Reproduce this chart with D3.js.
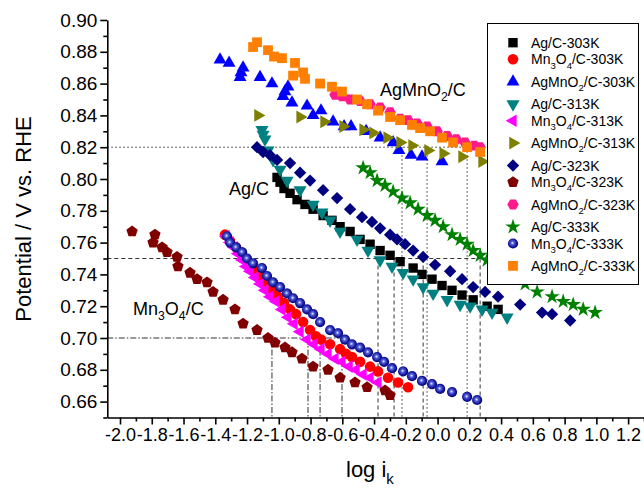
<!DOCTYPE html>
<html lang="en">
<head>
<meta charset="utf-8">
<title>Tafel plots</title>
<style>
	body {
		margin: 0;
		background: #fff;
	}
	svg {
		display: block;
		font-family: "Liberation Sans", Arial, sans-serif;
	}
	.axis path, .axis line {
		stroke: #000;
		stroke-width: 1.6px;
	}
	.axis text {
		fill: #000;
		font-family: "Liberation Sans", Arial, sans-serif;
	}
</style>
</head>
<body>
<svg></svg>
<script src="https://d3js.org/d3.v7.min.js"></script>
<script>
// ---- data (log ik, potential) ----
var agC303 = [[-1.011,0.801],[-0.992,0.798],[-0.967,0.794],[-0.929,0.791],[-0.885,0.787],[-0.835,0.784],[-0.784,0.781],[-0.721,0.777],[-0.665,0.774],[-0.614,0.770],[-0.551,0.767],[-0.488,0.762],[-0.425,0.759],[-0.362,0.755],[-0.299,0.752],[-0.236,0.748],[-0.154,0.744],[-0.098,0.740],[-0.035,0.737],[0.028,0.733],[0.091,0.730],[0.154,0.727],[0.224,0.724],[0.312,0.720],[0.381,0.718]];
var mnC303 = [[-1.339,0.765],[-1.307,0.761],[-1.269,0.757],[-1.231,0.752],[-1.194,0.748],[-1.156,0.743],[-1.118,0.739],[-1.080,0.735],[-1.043,0.730],[-1.005,0.726],[-0.967,0.722],[-0.929,0.718],[-0.891,0.715],[-0.847,0.710],[-0.803,0.705],[-0.765,0.701],[-0.734,0.699],[-0.677,0.696],[-0.614,0.693],[-0.576,0.690],[-0.539,0.688],[-0.488,0.685],[-0.425,0.682],[-0.375,0.679],[-0.312,0.675],[-0.249,0.672],[-0.186,0.669]];
var agmnC303 = [[-1.370,0.875],[-1.313,0.873],[-1.225,0.870],[-1.238,0.867],[-1.244,0.864],[-1.118,0.864],[-1.043,0.860],[-0.942,0.858],[-0.961,0.855],[-0.973,0.852],[-0.917,0.848],[-0.822,0.846],[-0.784,0.840],[-0.734,0.843],[-0.658,0.836],[-0.589,0.833],[-0.545,0.833],[-0.450,0.830],[-0.362,0.826],[-0.280,0.823],[-0.243,0.818],[-0.167,0.815],[-0.098,0.814],[0.028,0.811]];
var agC313 = [[-1.106,0.831],[-1.099,0.828],[-1.087,0.825],[-1.068,0.818],[-1.036,0.812],[-0.992,0.806],[-0.948,0.799],[-0.866,0.793],[-0.784,0.784],[-0.728,0.779],[-0.677,0.774],[-0.614,0.767],[-0.507,0.762],[-0.438,0.755],[-0.362,0.749],[-0.287,0.745],[-0.217,0.741],[-0.154,0.737],[-0.091,0.732],[-0.028,0.728],[0.060,0.724],[0.142,0.721],[0.205,0.720],[0.280,0.718],[0.343,0.716],[0.438,0.713]];
var mnC313 = [[-1.332,0.764],[-1.307,0.760],[-1.282,0.757],[-1.257,0.753],[-1.231,0.749],[-1.206,0.745],[-1.181,0.742],[-1.150,0.738],[-1.118,0.734],[-1.087,0.730],[-1.055,0.726],[-1.017,0.723],[-0.980,0.718],[-0.942,0.713],[-0.904,0.709],[-0.866,0.704],[-0.822,0.699],[-0.778,0.696],[-0.734,0.693],[-0.690,0.690],[-0.646,0.687],[-0.602,0.685],[-0.557,0.682],[-0.513,0.680],[-0.469,0.677],[-0.425,0.675],[-0.375,0.672]];
var agmnC313 = [[-1.131,0.840],[-0.866,0.839],[-0.715,0.836],[-0.595,0.833],[-0.469,0.831],[-0.406,0.829],[-0.318,0.826],[-0.236,0.823],[-0.161,0.821],[-0.060,0.818],[0.035,0.816],[0.154,0.814],[0.280,0.811]];
var agC323 = [[-1.137,0.820],[-1.099,0.817],[-1.055,0.815],[-1.011,0.812],[-0.929,0.810],[-0.866,0.804],[-0.803,0.799],[-0.721,0.793],[-0.633,0.788],[-0.551,0.781],[-0.476,0.776],[-0.413,0.773],[-0.362,0.769],[-0.299,0.765],[-0.255,0.762],[-0.205,0.759],[-0.154,0.755],[-0.091,0.751],[-0.016,0.746],[0.079,0.742],[0.154,0.737],[0.224,0.732],[0.299,0.729],[0.381,0.726],[0.520,0.721],[0.658,0.716],[0.721,0.715],[0.835,0.711]];
var mnC323 = [[-1.924,0.767],[-1.780,0.765],[-1.792,0.760],[-1.735,0.757],[-1.704,0.754],[-1.641,0.751],[-1.635,0.745],[-1.559,0.741],[-1.515,0.737],[-1.452,0.735],[-1.414,0.729],[-1.351,0.724],[-1.276,0.718],[-1.225,0.709],[-1.137,0.705],[-1.068,0.700],[-1.024,0.697],[-0.961,0.694],[-0.917,0.691],[-0.854,0.687],[-0.784,0.682],[-0.690,0.680],[-0.614,0.675],[-0.520,0.672],[-0.444,0.669],[-0.331,0.667],[-0.299,0.664]];
var agmnC323 = [[-0.646,0.853],[-0.602,0.852],[-0.551,0.850],[-0.488,0.849],[-0.425,0.847],[-0.362,0.845],[-0.299,0.842],[-0.236,0.838],[-0.186,0.837],[-0.129,0.835],[-0.066,0.833],[-0.003,0.830],[0.060,0.827],[0.117,0.825],[0.173,0.823],[0.230,0.821],[0.268,0.820]];
var agC333 = [[-0.469,0.807],[-0.425,0.804],[-0.381,0.799],[-0.331,0.796],[-0.280,0.792],[-0.224,0.788],[-0.173,0.785],[-0.123,0.781],[-0.066,0.777],[-0.016,0.774],[0.035,0.770],[0.091,0.765],[0.142,0.762],[0.186,0.759],[0.224,0.755],[0.268,0.752],[0.312,0.749],[0.394,0.744],[0.469,0.739],[0.551,0.734],[0.627,0.729],[0.721,0.726],[0.791,0.723],[0.854,0.721],[0.917,0.718],[0.992,0.716]];
var mnC333 = [[-1.326,0.764],[-1.307,0.760],[-1.269,0.757],[-1.231,0.754],[-1.200,0.750],[-1.162,0.747],[-1.106,0.744],[-1.074,0.739],[-1.036,0.735],[-0.992,0.732],[-0.948,0.728],[-0.910,0.725],[-0.866,0.722],[-0.822,0.718],[-0.784,0.715],[-0.740,0.710],[-0.677,0.705],[-0.627,0.703],[-0.583,0.699],[-0.539,0.696],[-0.488,0.694],[-0.438,0.691],[-0.381,0.688],[-0.337,0.685],[-0.287,0.681],[-0.217,0.679],[-0.161,0.676],[-0.098,0.673],[-0.035,0.671],[0.016,0.668],[0.091,0.666],[0.186,0.663],[0.249,0.661]];
var agmnC333 = [[-1.162,0.883],[-1.137,0.886],[-1.068,0.881],[-1.030,0.877],[-0.980,0.876],[-0.898,0.873],[-0.847,0.867],[-0.910,0.865],[-0.835,0.863],[-0.740,0.860],[-0.665,0.858],[-0.602,0.855],[-0.507,0.850],[-0.444,0.847],[-0.375,0.843],[-0.299,0.839],[-0.236,0.837],[-0.161,0.834],[-0.110,0.832],[-0.047,0.830],[0.028,0.826],[0.098,0.823],[0.186,0.820],[0.268,0.817]];

var seriesNames = ["Ag/C-303K", "Mn_3O_4/C-303K", "AgMnO_2/C-303K",
	"Ag/C-313K", "Mn_3O_4/C-313K", "AgMnO_2/C-313K",
	"Ag/C-323K", "Mn_3O_4/C-323K", "AgMnO_2/C-323K",
	"Ag/C-333K", "Mn_3O_4/C-333K", "AgMnO_2/C-333K"];
var seriesData = [agC303, mnC303, agmnC303, agC313, mnC313, agmnC313,
	agC323, mnC323, agmnC323, agC333, mnC333, agmnC333];

// guide lines: potential level, where the horizontal stops, and the drop lines
var guideLevels = [0.82, 0.75, 0.70];
var guideEnds = [0.31, 0.27, -0.60];
var guideDrops = [[-0.224, -0.066, 0.186], [-0.375, -0.274, -0.091, 0.268], [-1.043, -0.816, -0.740, -0.602]];

var xTicks = [-2.0, -1.8, -1.6, -1.4, -1.2, -1.0, -0.8, -0.6, -0.4, -0.2, 0.0, 0.2, 0.4, 0.6, 0.8, 1.0, 1.2];
var yTicks = [0.66, 0.68, 0.70, 0.72, 0.74, 0.76, 0.78, 0.80, 0.82, 0.84, 0.86, 0.88, 0.90];

var width = 644, height = 491;

var svg = d3.select("svg")
	.attr("width", width)
	.attr("height", height);

var x = d3.scaleLinear().domain([-2.08, 1.3]).range([107.3, 644]);
var y = d3.scaleLinear().domain([0.65, 0.90]).range([417.5, 20]);

// polygon symbol for pentagon / hexagon
function polygon(n, rot) {
	return {
		draw: function(context, size) {
			var r = Math.sqrt(size / Math.PI) * 1.08;
			for (var i = 0; i < n; i++) {
				var a = rot + i * 2 * Math.PI / n;
				if (i === 0) context.moveTo(r * Math.sin(a), -r * Math.cos(a));
				else context.lineTo(r * Math.sin(a), -r * Math.cos(a));
			}
			context.closePath();
		}
	};
}

var styles = [
	{color: "#000000", type: d3.symbolSquare, size: 88, rot: 0},
	{color: "#ff0000", type: d3.symbolCircle, size: 88, rot: 0},
	{color: "#0000ff", type: d3.symbolTriangle, size: 72, rot: 0},
	{color: "#008080", type: d3.symbolTriangle, size: 74, rot: 180},
	{color: "#ff00ff", type: d3.symbolTriangle, size: 68, rot: -90},
	{color: "#808000", type: d3.symbolTriangle, size: 72, rot: 90},
	{color: "#000080", type: d3.symbolSquare, size: 76, rot: 45},
	{color: "#800000", type: polygon(5, 0), size: 96, rot: 0},
	{color: "#ff1a8c", type: polygon(6, Math.PI / 6), size: 88, rot: 0},
	{color: "#008000", type: d3.symbolStar, size: 74, rot: 0},
	{color: "url(#sphere)", type: d3.symbolCircle, size: 82, rot: 0},
	{color: "#ff8000", type: d3.symbolSquare, size: 96, rot: 0}
];

var defs = svg.append("defs");
var grad = defs.append("radialGradient")
	.attr("id", "sphere")
	.attr("cx", "45%").attr("cy", "45%").attr("r", "55%");
grad.append("stop").attr("offset", "0%").attr("stop-color", "#eef0ff");
grad.append("stop").attr("offset", "30%").attr("stop-color", "#5060d8");
grad.append("stop").attr("offset", "70%").attr("stop-color", "#1a1aa0");
grad.append("stop").attr("offset", "100%").attr("stop-color", "#000070");

// guide lines
var dashes = ["1.5,2.5", "4,3", "6,2,1.5,2"];
var guides = svg.append("g").attr("class", "guides");
guideLevels.forEach(function(lv, i) {
	guides.append("line")
		.attr("x1", x(-2.08)).attr("x2", x(guideEnds[i]))
		.attr("y1", y(lv)).attr("y2", y(lv))
		.attr("stroke", "#333").attr("stroke-width", 1)
		.attr("stroke-dasharray", dashes[i]);
	guideDrops[i].forEach(function(d) {
		guides.append("line")
			.attr("x1", x(d)).attr("x2", x(d))
			.attr("y1", y(lv)).attr("y2", y(0.65))
			.attr("stroke", "#333").attr("stroke-width", 1)
			.attr("stroke-dasharray", dashes[i]);
	});
});

// markers
seriesData.forEach(function(data, i) {
	var st = styles[i];
	var sym = d3.symbol().type(st.type).size(st.size);
	svg.append("g")
		.selectAll("path")
		.data(data)
		.enter().append("path")
		.attr("d", sym)
		.attr("fill", st.color)
		.attr("transform", function(d) {
			return "translate(" + x(d[0]) + "," + y(d[1]) + ") rotate(" + st.rot + ")";
		});
});

// text with _n subscripts
function rich(sel, str, size) {
	var parts = str.split(/(_\w)/);
	var shifted = false;
	parts.forEach(function(p) {
		if (!p) return;
		if (p[0] === "_") {
			sel.append("tspan").attr("font-size", size * 0.68).attr("dy", size * 0.3).text(p.slice(1));
			shifted = true;
		} else {
			var t = sel.append("tspan").text(p);
			if (shifted) t.attr("dy", -size * 0.3);
			shifted = false;
		}
	});
}

rich(svg.append("text").attr("x", 380).attr("y", 96).attr("font-size", 18), "AgMnO_2/C", 18);
rich(svg.append("text").attr("x", 229).attr("y", 195).attr("font-size", 18), "Ag/C", 18);
rich(svg.append("text").attr("x", 133).attr("y", 315).attr("font-size", 18), "Mn_3O_4/C", 18);

// legend
var legend = svg.append("g").attr("class", "legend");
legend.append("rect")
	.attr("x", 487.5).attr("y", 23.5)
	.attr("width", 151).attr("height", 261)
	.attr("fill", "#fff").attr("stroke", "#000").attr("stroke-width", 1);
var ly = 42.7;
seriesNames.forEach(function(name, i) {
	var st = styles[i];
	legend.append("path")
		.attr("d", d3.symbol().type(st.type).size(st.size)())
		.attr("fill", st.color)
		.attr("transform", "translate(513," + ly + ") rotate(" + st.rot + ")");
	rich(legend.append("text").attr("x", 531).attr("y", ly + 5).attr("font-size", 14), name, 14);
	ly += (i % 3 === 0) ? 16.6 : 22.4;
});

// axes
var xAxis = svg.append("g").attr("class", "axis")
	.attr("transform", "translate(0," + y(0.65) + ")")
	.call(d3.axisBottom(x).tickValues(xTicks).tickSize(7).tickSizeOuter(0).tickPadding(4)
		.tickFormat(function(d) { return d.toFixed(1); }));
xAxis.selectAll("text").attr("font-size", 18);
svg.append("g").attr("class", "axis")
	.attr("transform", "translate(0," + y(0.65) + ")")
	.call(d3.axisBottom(x).tickValues(xTicks.map(function(d) { return d + 0.1; })).tickSize(4).tickSizeOuter(0).tickFormat(""))
	.select(".domain").remove();

var yAxis = svg.append("g").attr("class", "axis")
	.attr("transform", "translate(" + x(-2.08) + ",0)")
	.call(d3.axisLeft(y).tickValues(yTicks).tickSize(7).tickSizeOuter(0).tickPadding(3)
		.tickFormat(function(d) { return d.toFixed(2); }));
yAxis.selectAll("text").attr("font-size", 19);
svg.append("g").attr("class", "axis")
	.attr("transform", "translate(" + x(-2.08) + ",0)")
	.call(d3.axisLeft(y).tickValues(yTicks.map(function(d) { return d - 0.01; })).tickSize(4).tickSizeOuter(0).tickFormat(""))
	.select(".domain").remove();

// axis titles
svg.append("text")
	.attr("transform", "translate(31," + 219 + ") rotate(-90)")
	.attr("text-anchor", "middle")
	.attr("font-size", 22)
	.text("Potential / V vs. RHE");
var xt = svg.append("text")
	.attr("x", 346).attr("y", 477)
	.attr("font-size", 22);
rich(xt, "log i_k", 22);
</script>
</body>
</html>
